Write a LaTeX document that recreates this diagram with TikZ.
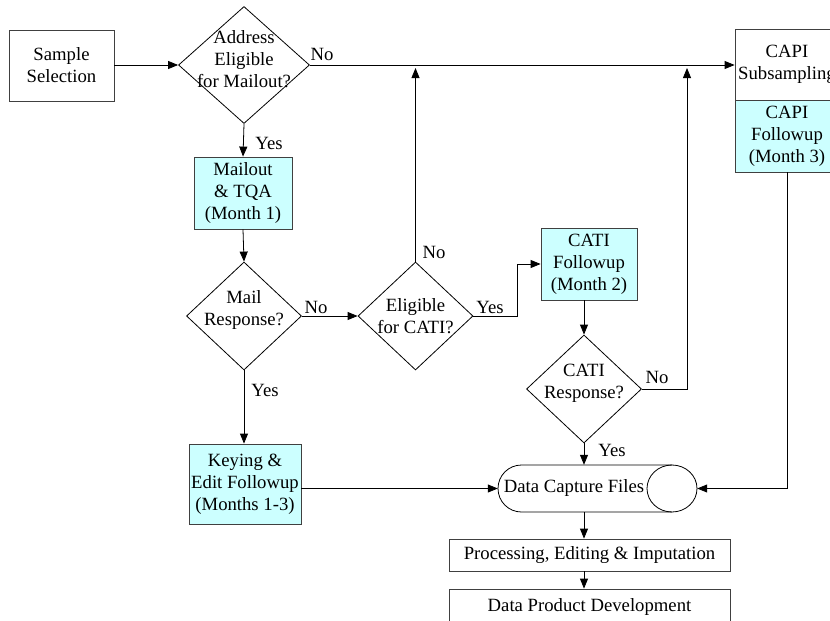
\documentclass[tikz,border=0pt]{standalone}
\usepackage{fontspec}
\setmainfont{Liberation Serif}
\usetikzlibrary{shapes.geometric,arrows.meta}
\definecolor{cyanfill}{HTML}{CCFFFF}
\definecolor{edge}{HTML}{404040}
\begin{document}
\begin{tikzpicture}[x=1pt,y=-1pt,
  font=\fontsize{18.7}{22}\selectfont,
  box/.style={draw=edge,line width=0.8pt,rectangle,inner sep=0pt,align=center},
  cbox/.style={box,fill=cyanfill},
  dia/.style={draw=black,line width=0.8pt,diamond,inner sep=0pt},
  txt/.style={inner sep=0pt,align=center},
  lab/.style={inner sep=0pt},
  ln/.style={line width=0.8pt},
  conn/.style={line width=0.8pt,-{Triangle[length=10pt,width=8pt]}}]
\useasboundingbox (0,0) rectangle (830,621);
\clip (0,0) rectangle (830,621);
% nodes
\node[box,minimum width=105pt,minimum height=71pt] (ss) at (61.5,65.5) {Sample\\Selection};
\node[dia,minimum width=131pt,minimum height=117pt] (d1) at (244,65) {};
\node[txt] (d1t) at (244,59) {Address\\Eligible\\for Mailout?};
\node[cbox,minimum width=98pt,minimum height=72pt] (mail) at (243,193) {Mailout\\\& TQA\\(Month 1)};
\node[dia,minimum width=115pt,minimum height=108pt] (mr) at (244,316) {};
\node[txt] (mrt) at (244,310) {Mail\\Response?};
\node[dia,minimum width=115pt,minimum height=108pt] (ec) at (415.5,316) {};
\node[txt] (ect) at (415.5,316) {Eligible\\for CATI?};
\node[cbox,minimum width=96pt,minimum height=72pt] (cati) at (589,264) {CATI\\Followup\\(Month 2)};
\node[dia,minimum width=115pt,minimum height=108pt] (cr) at (584,389) {};
\node[txt] (crt) at (584,383) {CATI\\Response?};
\node[cbox,minimum width=112pt,minimum height=80pt] (key) at (245,484) {Keying \&\\Edit Followup\\(Months 1-3)};
\node[box,minimum width=104pt,minimum height=71pt] (capa) at (787,64.5) {CAPI\\Subsampling};
\node[cbox,minimum width=104pt,minimum height=72pt] (capb) at (787,136) {CAPI\\Followup\\(Month 3)};
\node[minimum width=199pt,minimum height=47pt,inner sep=0pt] (dcf) at (597.5,488.5) {};
\draw[ln] (672,465) -- (521.5,465) arc[start angle=270,end angle=90,radius=23.5] -- (672,512);
\draw[ln] (672,488.5) ellipse[x radius=25,y radius=23.5];
\node[txt] (dcft) at (574,488) {Data Capture Files};
\node[box,minimum width=281pt,minimum height=32pt] (proc) at (589.5,555) {Processing, Editing \& Imputation};
\node[box,minimum width=281pt,minimum height=36pt] (dp) at (589.5,607) {Data Product Development};
% coordinates
\coordinate (j1) at (517,316);
\coordinate (up2) at (687,65);
% connectors
\draw[conn] (ss.east |- d1.west) -- (d1.west);
\draw[conn] (d1.east) -- (d1.east -| capa.west);
\draw[conn] (d1.south) -- (mail.north);
\draw[conn] (mail.south) -- (mr.north);
\draw[conn] (mr.east) -- (ec.west);
\draw[conn,shorten >=3pt] (ec.north) -- (ec.north |- d1.east);
\draw[conn] (ec.east) -- (j1) |- (cati.west);
\draw[conn] (cr.north |- cati.south) -- (cr.north);
\draw[conn] (mr.south) -- (mr.south |- key.north);
\draw[conn,shorten >=3pt] (cr.east) -| (up2);
\draw[conn] (cr.south) -- (cr.south |- dcf.north);
\draw[conn] (key.east |- dcf.west) -- (dcf.west);
\draw[conn] (capb.south) -- (capb.south |- dcf.east) -- (dcf.east);
\draw[conn] (cr.south |- dcf.south) -- (cr.south |- proc.north);
\draw[conn] (cr.south |- proc.south) -- (cr.south |- dp.north);
% labels
\node[lab] (l1) at (322,54) {No};
\node[lab] (l2) at (269,143) {Yes};
\node[lab] (l3) at (316,307) {No};
\node[lab] (l4) at (434,252) {No};
\node[lab] (l5) at (490,307) {Yes};
\node[lab] (l6) at (265,390) {Yes};
\node[lab] (l7) at (657,377) {No};
\node[lab] (l8) at (612,450) {Yes};
\end{tikzpicture}
\end{document}
